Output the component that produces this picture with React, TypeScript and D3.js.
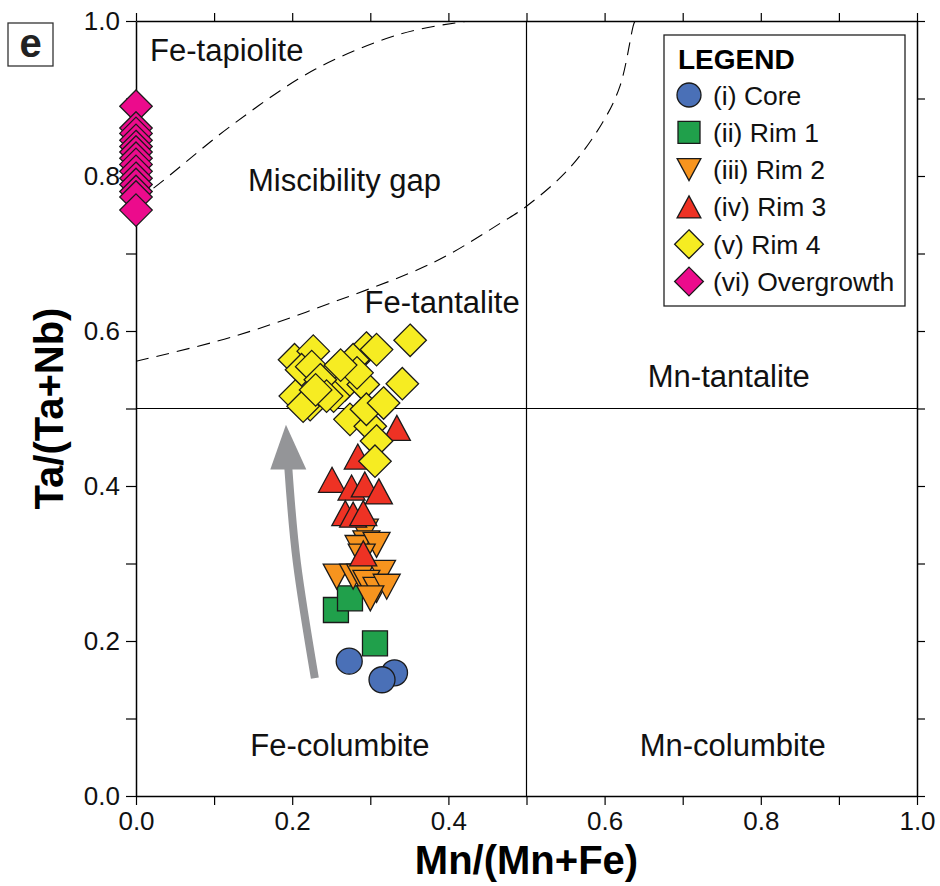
import React, { useEffect, useRef } from 'react';
import * as d3 from 'd3';

// Mn/(Mn+Fe) vs Ta/(Ta+Nb) for each growth zone
const CORE = [[0.273, 0.174], [0.331, 0.159], [0.315, 0.150]];
const RIM1 = [[0.256, 0.240], [0.274, 0.255], [0.306, 0.197]];
const RIM2 = [
    [0.293, 0.341], [0.295, 0.326], [0.285, 0.320], [0.308, 0.324], [0.289, 0.309],
    [0.257, 0.283], [0.278, 0.283], [0.287, 0.283], [0.315, 0.288], [0.295, 0.275],
    [0.308, 0.266], [0.321, 0.270], [0.300, 0.255],
];
const RIM3 = [
    [0.251, 0.408], [0.276, 0.398], [0.293, 0.402], [0.311, 0.393], [0.284, 0.438],
    [0.268, 0.365], [0.278, 0.363], [0.291, 0.365], [0.291, 0.313], [0.334, 0.475],
];
const RIM4 = [
    [0.351, 0.588], [0.341, 0.532], [0.203, 0.563], [0.227, 0.574], [0.295, 0.578],
    [0.308, 0.576], [0.212, 0.550], [0.225, 0.554], [0.255, 0.548], [0.278, 0.563],
    [0.268, 0.531], [0.291, 0.531], [0.204, 0.516], [0.223, 0.505], [0.253, 0.516],
    [0.274, 0.486], [0.300, 0.477], [0.308, 0.458], [0.306, 0.432], [0.295, 0.499],
    [0.236, 0.537], [0.244, 0.516], [0.214, 0.503], [0.283, 0.546], [0.317, 0.507],
    [0.262, 0.556], [0.230, 0.524],
];
const OVERGROWTH_Y = [0.890, 0.862, 0.855, 0.846, 0.838, 0.831, 0.823, 0.815, 0.806, 0.797, 0.789, 0.780, 0.773, 0.756];

// miscibility gap outline (two visible branches)
const GAP_LOWER = [
    [0, 0.561], [0.122, 0.592], [0.252, 0.637], [0.382, 0.689], [0.468, 0.740], [0.5, 0.761],
    [0.554, 0.809], [0.598, 0.870], [0.620, 0.917], [0.637, 0.995], [0.639, 1.0],
];
const GAP_UPPER = [[0, 0.770], [0.0205, 0.783], [0.122, 0.865], [0.230, 0.938], [0.338, 0.983], [0.412, 0.998], [0.43, 1.0]];

// grey trend arrow (tail -> head base -> tip)
const ARROW = [[0.229, 0.152], [0.206, 0.301], [0.195, 0.424]];
const ARROW_TIP = [0.192, 0.479];

const FIELDS = [
    { label: 'Fe-tapiolite', x: 0.018, y: 0.948, anchor: 'start' },
    { label: 'Miscibility gap', x: 0.267, y: 0.781, anchor: 'middle' },
    { label: 'Fe-tantalite', x: 0.392, y: 0.623, anchor: 'middle' },
    { label: 'Mn-tantalite', x: 0.759, y: 0.528, anchor: 'middle' },
    { label: 'Fe-columbite', x: 0.261, y: 0.051, anchor: 'middle' },
    { label: 'Mn-columbite', x: 0.764, y: 0.051, anchor: 'middle' },
];

const TICKS = d3.range(0, 11).map(i => i / 10);

const SERIES = [
    { name: '(i) Core', shape: 'circle', color: '#4a70b7', data: CORE },
    { name: '(ii) Rim 1', shape: 'square', color: '#20a04b', data: RIM1 },
    { name: '(iii) Rim 2', shape: 'down', color: '#f7941e', data: RIM2 },
    { name: '(iv) Rim 3', shape: 'up', color: '#ee3224', data: RIM3 },
    { name: '(v) Rim 4', shape: 'diamond', color: '#f6ec22', data: RIM4 },
    { name: '(vi) Overgrowth', shape: 'diamond', color: '#ec0b8c', data: OVERGROWTH_Y.map(v => [0, v]) },
];

const FONT = '"Liberation Sans", Arial, Helvetica, sans-serif';

const shapePath = (shape, s) => {
    switch (shape) {
        case 'circle':
            return `M${s},0A${s},${s} 0 1,1 ${-s},0A${s},${s} 0 1,1 ${s},0Z`;
        case 'square':
            return `M${-s},${-s}H${s}V${s}H${-s}Z`;
        case 'up':
            return `M0,${-s}L${s * 1.08},${s}L${-s * 1.08},${s}Z`;
        case 'down':
            return `M0,${s}L${s * 1.08},${-s}L${-s * 1.08},${-s}Z`;
        default:
            return `M0,${-s * 1.25}L${s * 1.25},0L0,${s * 1.25}L${-s * 1.25},0Z`;
    }
};

const App = () => {
    const svgRef = useRef(null);
    const width = 940;
    const height = 886;
    const margin = { top: 21, right: 23, bottom: 90, left: 136 };

    useEffect(() => {
        const svg = d3.select(svgRef.current);
        svg.selectAll('*').remove();

        const x = d3.scaleLinear().domain([0, 1]).range([margin.left, width - margin.right]);
        const y = d3.scaleLinear().domain([0, 1]).range([height - margin.bottom, margin.top]);

        svg.append('clipPath').attr('id', 'plot-clip')
            .append('rect')
            .attr('x', x(0)).attr('y', y(1))
            .attr('width', x(1) - x(0)).attr('height', y(0) - y(1));

        // quadrant dividers
        svg.append('line')
            .attr('x1', x(0.5)).attr('x2', x(0.5)).attr('y1', y(0)).attr('y2', y(1))
            .attr('stroke', '#000').attr('stroke-width', 1.2);
        svg.append('line')
            .attr('x1', x(0)).attr('x2', x(1)).attr('y1', y(0.5)).attr('y2', y(0.5))
            .attr('stroke', '#000').attr('stroke-width', 1.2);

        // miscibility gap
        const gapLine = d3.line().x(d => x(d[0])).y(d => y(d[1])).curve(d3.curveCatmullRom);
        [GAP_LOWER, GAP_UPPER].forEach(pts => {
            svg.append('path')
                .attr('d', gapLine(pts))
                .attr('fill', 'none')
                .attr('stroke', '#000')
                .attr('stroke-width', 1.1)
                .attr('stroke-dasharray', '13,8')
                .attr('clip-path', 'url(#plot-clip)');
        });

        // field labels
        svg.selectAll('.field')
            .data(FIELDS)
            .enter()
            .append('text')
            .attr('x', d => x(d.x))
            .attr('y', d => y(d.y))
            .attr('text-anchor', d => d.anchor)
            .style('font-family', FONT)
            .style('font-size', '31px')
            .style('fill', '#111')
            .text(d => d.label);

        // trend arrow
        const arrowLine = d3.line().x(d => x(d[0])).y(d => y(d[1])).curve(d3.curveNatural);
        svg.append('path')
            .attr('d', arrowLine(ARROW))
            .attr('fill', 'none')
            .attr('stroke', '#949598')
            .attr('stroke-width', 8);
        const base = ARROW[ARROW.length - 1];
        svg.append('path')
            .attr('d', `M${x(ARROW_TIP[0])},${y(ARROW_TIP[1])}L${x(base[0]) + 18},${y(base[1]) + 2}L${x(base[0]) - 18},${y(base[1]) + 2}Z`)
            .attr('fill', '#949598');

        // axes
        const fmt = d => (Math.round(d * 10) % 2 === 0 ? d3.format('.1f')(d) : '');
        const styleAxis = (g, showLabels) => {
            g.select('.domain').attr('stroke-width', 1.5);
            g.selectAll('.tick line').attr('stroke-width', 1.2);
            g.selectAll('.tick text')
                .style('font-family', FONT)
                .style('font-size', '26px')
                .style('fill', '#111')
                .style('display', showLabels ? null : 'none');
        };
        svg.append('g')
            .attr('transform', `translate(0,${y(0)})`)
            .call(d3.axisBottom(x).tickValues(TICKS).tickFormat(fmt).tickSize(9).tickSizeOuter(0).tickPadding(7))
            .call(g => styleAxis(g, true));
        svg.append('g')
            .attr('transform', `translate(${x(0)},0)`)
            .call(d3.axisLeft(y).tickValues(TICKS).tickFormat(fmt).tickSize(10).tickSizeOuter(0).tickPadding(6))
            .call(g => styleAxis(g, true));
        svg.append('g')
            .attr('transform', `translate(0,${y(1)})`)
            .call(d3.axisTop(x).tickValues(TICKS).tickSize(8).tickSizeOuter(0))
            .call(g => styleAxis(g, false));
        svg.append('g')
            .attr('transform', `translate(${x(1)},0)`)
            .call(d3.axisRight(y).tickValues(TICKS).tickSize(8).tickSizeOuter(0))
            .call(g => styleAxis(g, false));

        // data points
        const sizes = { circle: 13, square: 12.5, up: 12.5, down: 12.5, diamond: 13 };
        SERIES.forEach(s => {
            svg.append('g')
                .selectAll('path')
                .data(s.data)
                .enter()
                .append('path')
                .attr('transform', d => `translate(${x(d[0])},${y(d[1])})`)
                .attr('d', shapePath(s.shape, sizes[s.shape]))
                .attr('fill', s.color)
                .attr('stroke', '#1a1a1a')
                .attr('stroke-width', 1.3)
                .attr('stroke-linejoin', 'miter');
        });

        // axis titles
        svg.append('text')
            .attr('x', (x(0) + x(1)) / 2)
            .attr('y', 874)
            .attr('text-anchor', 'middle')
            .style('font-family', FONT)
            .style('font-weight', 'bold')
            .style('font-size', '40px')
            .text('Mn/(Mn+Fe)');
        svg.append('text')
            .attr('transform', `translate(63,${(y(0) + y(1)) / 2}) rotate(-90)`)
            .attr('text-anchor', 'middle')
            .style('font-family', FONT)
            .style('font-weight', 'bold')
            .style('font-size', '40px')
            .text('Ta/(Ta+Nb)');

        // panel letter
        svg.append('rect')
            .attr('x', 8).attr('y', 23).attr('width', 45).attr('height', 43)
            .attr('fill', '#fff').attr('stroke', '#333').attr('stroke-width', 1.3);
        svg.append('text')
            .attr('x', 30.5).attr('y', 57)
            .attr('text-anchor', 'middle')
            .style('font-family', FONT)
            .style('font-weight', 'bold')
            .style('font-size', '40px')
            .style('fill', '#222')
            .text('e');

        // legend
        const lg = svg.append('g').attr('transform', 'translate(664,35)');
        lg.append('rect')
            .attr('width', 241).attr('height', 271)
            .attr('fill', '#fff').attr('stroke', '#222').attr('stroke-width', 1.3);
        lg.append('text')
            .attr('x', 14).attr('y', 34)
            .style('font-family', FONT)
            .style('font-weight', 'bold')
            .style('font-size', '28px')
            .text('LEGEND');
        const legendSizes = { circle: 12, square: 11, up: 11, down: 11, diamond: 11.5 };
        const item = lg.selectAll('.item')
            .data(SERIES)
            .enter()
            .append('g')
            .attr('transform', (d, i) => `translate(25,${60 + i * 37.3})`);
        item.append('path')
            .attr('d', d => shapePath(d.shape, legendSizes[d.shape]))
            .attr('fill', d => d.color)
            .attr('stroke', '#1a1a1a')
            .attr('stroke-width', 1.3);
        item.append('text')
            .attr('x', 24).attr('y', 9.5)
            .style('font-family', FONT)
            .style('font-size', '26.5px')
            .style('fill', '#111')
            .text(d => d.name);
    }, []);

    return (
        <svg
            ref={svgRef}
            width={width}
            height={height}
            style={{ position: 'absolute', left: 0, top: 0, background: '#fff' }}
        />
    );
};

export default App;
